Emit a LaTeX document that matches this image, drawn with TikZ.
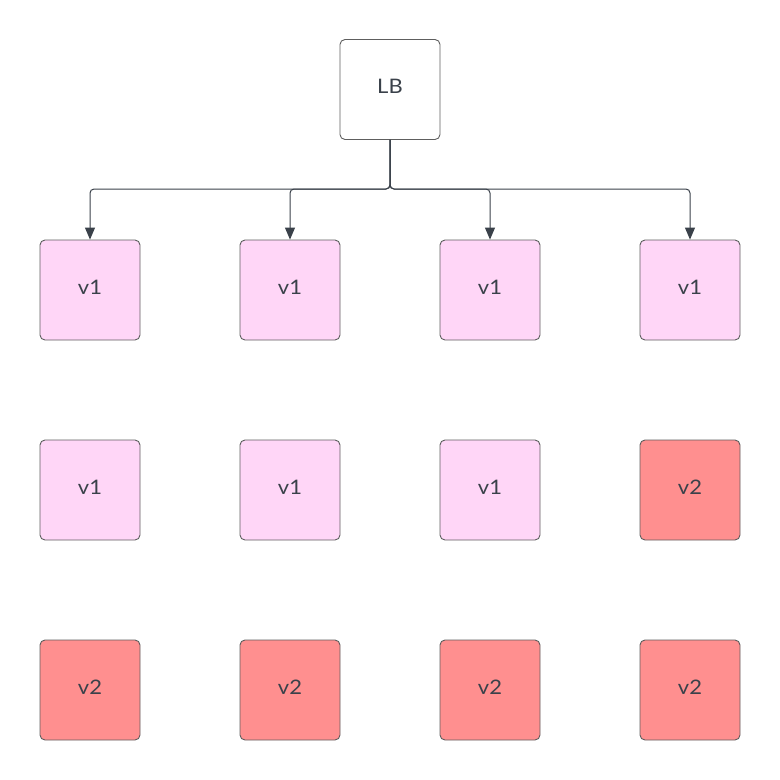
\documentclass[tikz,border=0pt]{standalone}
\usepackage{fontspec}
\setmainfont{Lato}[FakeStretch=1.1]
\usetikzlibrary{arrows.meta}
\definecolor{inkgray}{HTML}{3A414A}
\definecolor{edgegray}{HTML}{5E5E5E}
\definecolor{vonefill}{HTML}{FFD6F7}
\definecolor{vtwofill}{HTML}{FF8F8F}
\tikzset{
  box/.style={draw=edgegray, line width=0.9pt, rounded corners=5pt,
    minimum width=100pt, minimum height=100pt, inner sep=0pt,
    text height=15pt, text depth=6.2pt,
    text=inkgray, font=\fontsize{20pt}{24pt}\selectfont},
  vone/.style={box, fill=vonefill},
  vtwo/.style={box, fill=vtwofill},
  lbbox/.style={box, fill=white},
  link/.style={draw=inkgray, line width=1pt, rounded corners=4pt,
    -{Triangle[width=10pt,length=12pt]}}
}
\begin{document}
\begin{tikzpicture}[x=1pt,y=-1pt]
  \useasboundingbox (0,0) rectangle (780,780);
  \node[lbbox] (lb) at (390,89.5) {LB};
  % first row
  \node[vone] (a1) at (90,290) {v1};
  \node[vone] (a2) at (290,290) {v1};
  \node[vone] (a3) at (490,290) {v1};
  \node[vone] (a4) at (690,290) {v1};
  % second row
  \node[vone] (b1) at (90,490) {v1};
  \node[vone] (b2) at (290,490) {v1};
  \node[vone] (b3) at (490,490) {v1};
  \node[vtwo] (b4) at (690,490) {v2};
  % third row
  \node[vtwo] (c1) at (90,690) {v2};
  \node[vtwo] (c2) at (290,690) {v2};
  \node[vtwo] (c3) at (490,690) {v2};
  \node[vtwo] (c4) at (690,690) {v2};
  % load balancer fan-out
  \coordinate (split) at (390,189);
  \foreach \t in {a1,a2,a3,a4}
    \draw[link] (lb.south) -- (split) -| (\t.north);
\end{tikzpicture}
\end{document}
